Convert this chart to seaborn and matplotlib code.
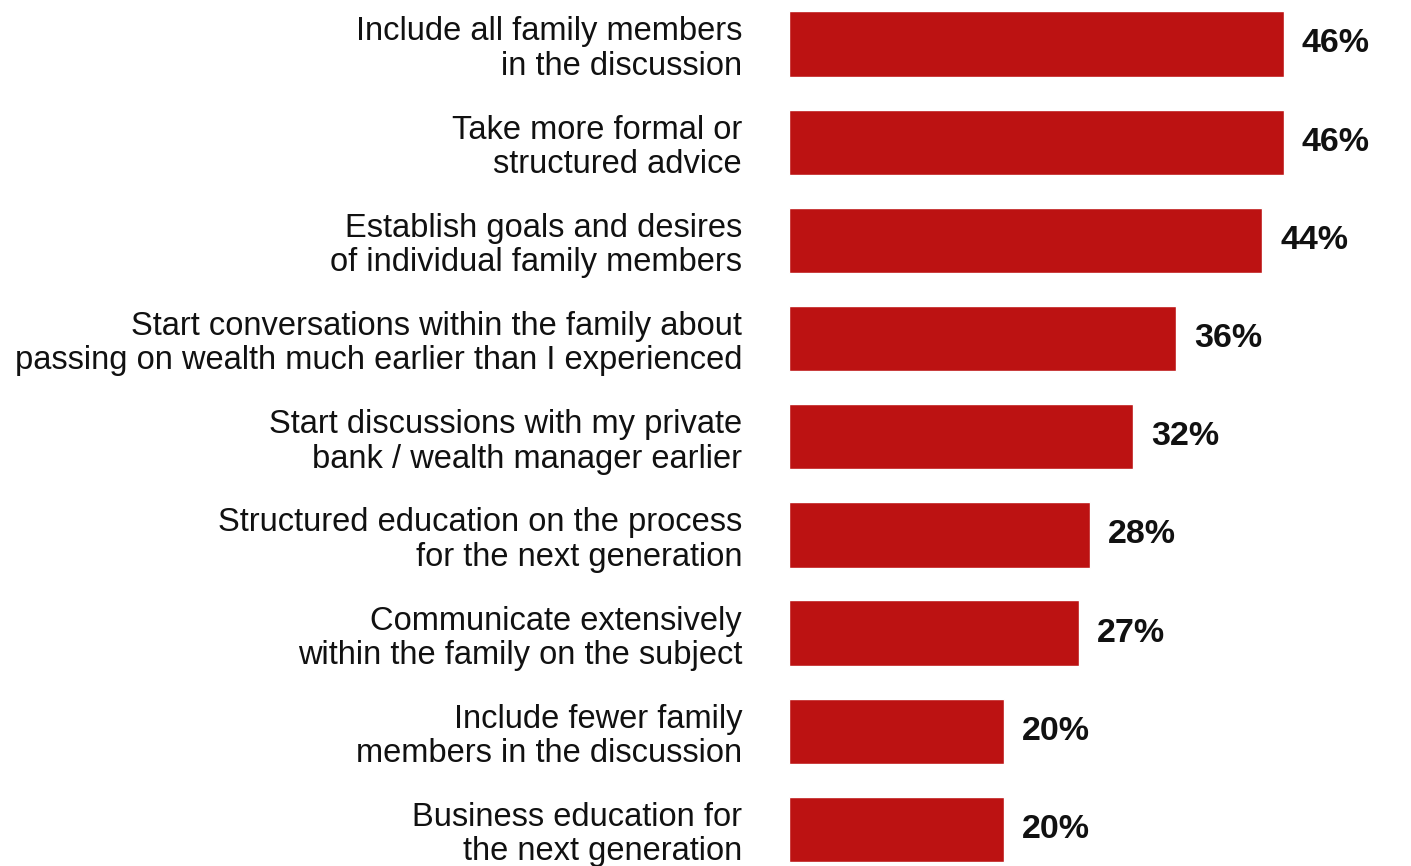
import matplotlib
matplotlib.use("Agg")
import matplotlib.pyplot as plt
import seaborn as sns
import pandas as pd

categories = [
    "Include all family members\nin the discussion",
    "Take more formal or\nstructured advice",
    "Establish goals and desires\nof individual family members",
    "Start conversations within the family about\npassing on wealth much earlier than I experienced",
    "Start discussions with my private\nbank / wealth manager earlier",
    "Structured education on the process\nfor the next generation",
    "Communicate extensively\nwithin the family on the subject",
    "Include fewer family\nmembers in the discussion",
    "Business education for\nthe next generation",
]
values = [46, 46, 44, 36, 32, 28, 27, 20, 20]

df = pd.DataFrame({"category": categories, "value": values})

sns.set_theme(style="white")
plt.rcParams["font.family"] = ["Liberation Sans", "DejaVu Sans"]

fig = plt.figure(figsize=(14.11, 8.66), dpi=100)
ax = fig.add_axes([789 / 1411, 0, 1 - 789 / 1411, 1])

sns.barplot(data=df, x="value", y="category", color="#BC1212",
            saturation=1, width=0.665, ax=ax, orient="h")

ax.set_xlim(0, 57.86)
ax.set_ylim(8.372, -0.448)
ax.set_xlabel("")
ax.set_ylabel("")
ax.set_xticks([])
sns.despine(ax=ax, left=True, bottom=True)

ax.tick_params(axis="y", length=0, pad=33.8)
for lbl in ax.get_yticklabels():
    lbl.set_fontsize(23.5)
    lbl.set_color("#111111")
    lbl.set_linespacing(1.14)
    lbl.set_horizontalalignment("right")

for container in ax.containers:
    ax.bar_label(container, labels=[f"{v}%" for v in values], padding=13,
                 fontsize=24.5, fontweight="bold", color="#111111")

fig.savefig("out.png", dpi=100, facecolor="white")
